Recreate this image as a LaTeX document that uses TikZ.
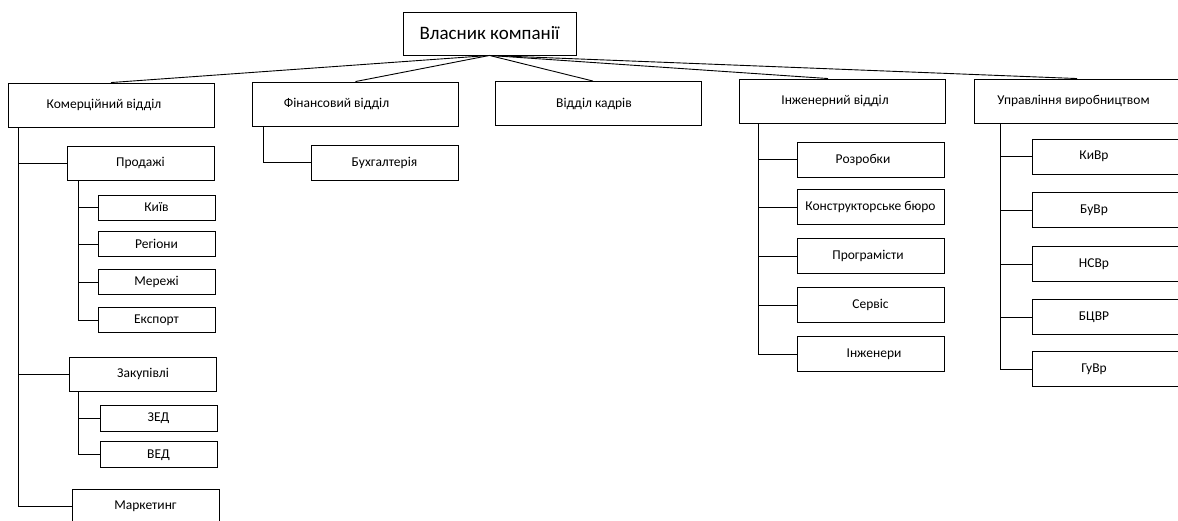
\documentclass[tikz,border=0pt]{standalone}
\usepackage{fontspec}
\setmainfont{Carlito}
\usetikzlibrary{
  positioning,
}

\begin{document}
\begin{tikzpicture}[x=1pt, y=-1pt, line width=0.9pt,
    box/.style={draw, inner sep=2pt, font=\fontsize{13.5}{16}\selectfont},
    topbox/.style={box, minimum width=206pt, minimum height=44pt},
    midbox/.style={box, minimum width=147pt, minimum height=35pt},
    leafbox/.style={box, minimum width=117pt, minimum height=25pt},
    tshift/.style={execute at begin node={\hspace*{#1}}}]
      \useasboundingbox (0,0) rectangle (1178,521);
      \node [box, minimum width=173pt, minimum height=43pt, font=\fontsize{19}{22}\selectfont] (own) at (489.5,33.5) {Власник компанії};
      % departments
      \node [topbox, tshift=-14pt] (kom) at (111,105) {Комерційний відділ};
      \node [topbox, tshift=-38pt] (fin) at (355.5,104) {Фінансовий відділ};
      \node [topbox, tshift=-8pt] (kadr) at (598,103.5) {Відділ кадрів};
      \node [topbox, tshift=-14pt] (inzh) at (842,101) {Інженерний відділ};
      \node [topbox, tshift=-7pt] (upr) at (1077,101) {Управління виробництвом};
      \draw (own.south) -- (kom.north);
      \draw (own.south) -- (fin.north);
      \draw (own.south) -- ([xshift=-5pt]kadr.north);
      \draw (own.south) -- ([xshift=-14pt]inzh.north);
      \draw (own.south) -- (upr.north);
      % commercial
      \node [midbox, minimum height=34pt] (prod) at (140.5,163) {Продажі};
      \node [leafbox] (kyiv) at (156.5,207.5) {Київ};
      \node [leafbox, below=11pt of kyiv] (reg) {Регіони};
      \node [leafbox, below=12pt of reg] (mer) {Мережі};
      \node [leafbox, below=12pt of mer] (exp) {Експорт};
      \node [midbox, minimum height=34pt] (zak) at (143,374) {Закупівлі};
      \node [leafbox, minimum height=26pt] (zed) at (158.5,418) {ЗЕД};
      \node [leafbox, minimum height=26pt, below=10pt of zed] (ved) {ВЕД};
      \node [midbox, minimum height=34pt] (mark) at (145.5,506) {Маркетинг};
      \draw ([xshift=11pt]kom.south west) |- (prod.west);
      \draw ([xshift=11pt]kom.south west) |- (zak.west);
      \draw ([xshift=11pt]kom.south west) |- (mark.west);
      \draw ([xshift=12pt]prod.south west) |- (kyiv.west);
      \draw ([xshift=12pt]prod.south west) |- (reg.west);
      \draw ([xshift=12pt]prod.south west) |- (mer.west);
      \draw ([xshift=12pt]prod.south west) |- (exp.west);
      \draw ([xshift=9pt]zak.south west) |- (zed.west);
      \draw ([xshift=9pt]zak.south west) |- (ved.west);
      % finance
      \node [midbox] (buh) at (384.5,162.5) {Бухгалтерія};
      \draw ([xshift=11pt]fin.south west) |- (buh.west);
      % engineering
      \node [midbox, tshift=-15pt] (rozr) at (870.5,159.5) {Розробки};
      \node [midbox, below=12pt of rozr] (konstr) {Конструкторське бюро};
      \node [midbox, tshift=-5pt, below=13pt of konstr] (prog) {Програмісти};
      \node [midbox, below=13pt of prog] (serv) {Сервіс};
      \node [midbox, tshift=7pt, below=13pt of serv] (inzhen) {Інженери};
      \draw ([xshift=20pt]inzh.south west) |- (rozr.west);
      \draw ([xshift=20pt]inzh.south west) |- (konstr.west);
      \draw ([xshift=20pt]inzh.south west) |- (prog.west);
      \draw ([xshift=20pt]inzh.south west) |- (serv.west);
      \draw ([xshift=20pt]inzh.south west) |- (inzhen.west);
      % production
      \node [midbox, tshift=-24pt] (kivr) at (1106,156.5) {КиВр};
      \node [midbox, tshift=-24pt, below=18pt of kivr] (buvr) {БуВр};
      \node [midbox, tshift=-24pt, below=18pt of buvr] (nsvr) {НСВр};
      \node [midbox, tshift=-24pt, below=17pt of nsvr] (bcvr) {БЦВР};
      \node [midbox, tshift=-24pt, below=16pt of bcvr] (guvr) {ГуВр};
      \draw ([xshift=27pt]upr.south west) |- (kivr.west);
      \draw ([xshift=27pt]upr.south west) |- (buvr.west);
      \draw ([xshift=27pt]upr.south west) |- (nsvr.west);
      \draw ([xshift=27pt]upr.south west) |- (bcvr.west);
      \draw ([xshift=27pt]upr.south west) |- (guvr.west);
    \end{tikzpicture}
\end{document}
